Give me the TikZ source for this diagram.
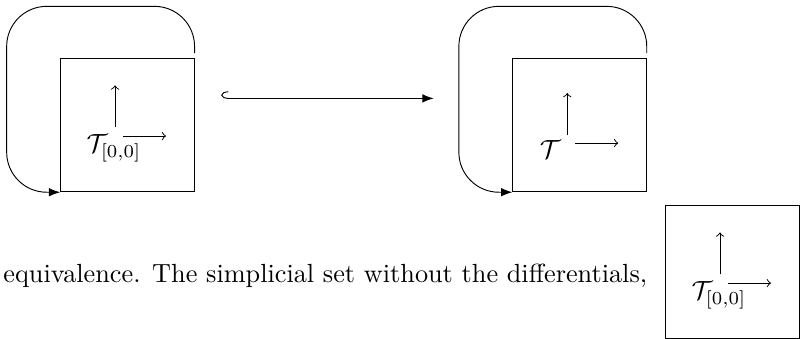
\documentclass[tikz,border=0pt]{standalone}
\usepackage{graphicx}
\usepackage{amssymb}
\usepackage{amsmath}
\usetikzlibrary{arrows.meta, positioning, calc}
\newcommand{\bigtxt}[1]{\scalebox{1.12}{#1}}

\begin{document}
\begin{tikzpicture}[
	cell/.style={draw, minimum size=2cm, inner sep=0pt},
	tlabel/.style={inner sep=0pt},
	loopback/.style={-{Latex}, rounded corners=0.6cm},
	incl/.style={{Hooks[right,width=6pt,length=3pt]}-{Latex}},
	diff/.style={-to}
]
	\useasboundingbox (0,0) rectangle (12.16,-5.07);
	% first square and its loop
	\node[cell] (b1) at (1.91,-1.875) {};
	\node[tlabel] (t1) at ($(b1)+(-0.2,-0.345)$) {\bigtxt{$\mathcal{T}_{[0,0]}$}};
	\draw[diff] ([shift={(0.015,0.31)}]t1.center) -- ++(0,0.63);
	\draw[diff] ([shift={(0.135,0.18)}]t1.center) -- ++(0.645,0);
	\coordinate (c1) at ($(b1)+(-1.81,1.78)$);
	\draw[loopback] ([yshift=2pt]b1.north east) |- (c1) |- (b1.south west);
	% second square and its loop
	\node[cell] (b2) at (8.69,-1.875) {};
	\node[tlabel] (t2) at ($(b2)+(-0.44,-0.36)$) {\bigtxt{$\mathcal{T}$}};
	\draw[diff] ([shift={(0.255,0.21)}]t2.center) -- ++(0,0.63);
	\draw[diff] ([shift={(0.375,0.09)}]t2.center) -- ++(0.645,0);
	\coordinate (c2) at ($(b2)+(-1.81,1.78)$);
	\draw[loopback] ([yshift=2pt]b2.north east) |- (c2) |- (b2.south west);
	% inclusion
	\draw[incl] ([shift={(0.4,0.4)}]b1.east) -- ([shift={(-1.18,0.4)}]b2.west);
	% text line and third square
	\node[anchor=base west, inner sep=0pt] (txt) at (0.045,-4.24) {\bigtxt{equivalence. The simplicial set without the differentials,}};
	\node[cell] (b3) at (10.98,-4.08) {};
	\node[tlabel] (t3) at ($(b3)+(-0.2,-0.345)$) {\bigtxt{$\mathcal{T}_{[0,0]}$}};
	\draw[diff] ([shift={(0.015,0.31)}]t3.center) -- ++(0,0.63);
	\draw[diff] ([shift={(0.135,0.18)}]t3.center) -- ++(0.645,0);
\end{tikzpicture}
\end{document}
